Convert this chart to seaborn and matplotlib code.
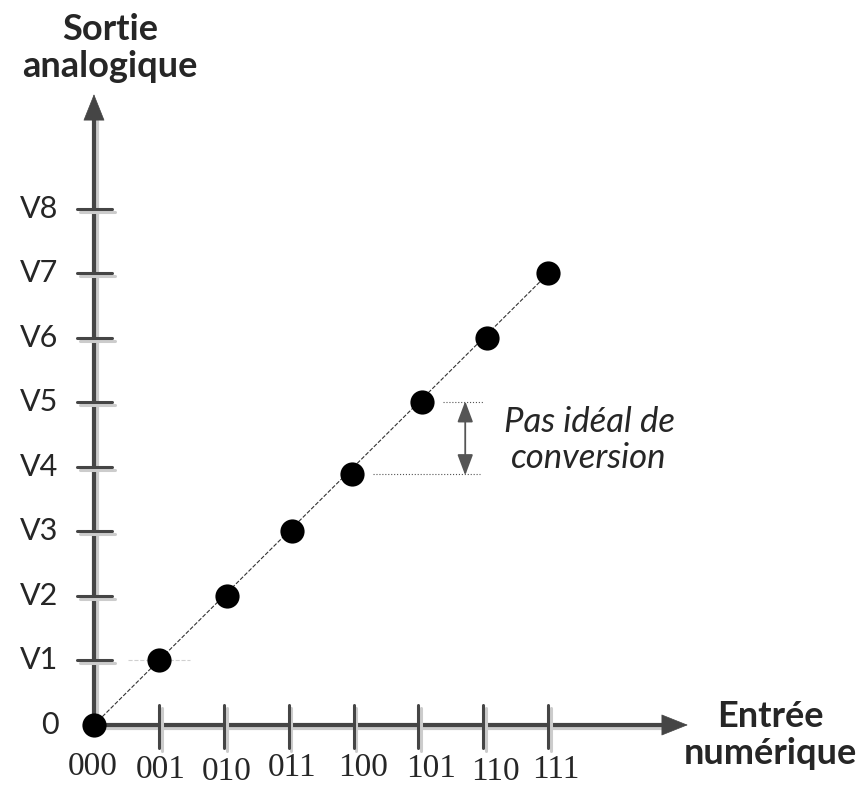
import matplotlib
matplotlib.use('Agg')
from matplotlib import pyplot as plt
import matplotlib.patheffects as pe
import pandas as pd
import seaborn as sns

sns.set_style('white')

# codes on the x axis and analog levels on the y axis
codes = ['000', '001', '010', '011', '100', '101', '110', '111']
levels = ['0', 'V1', 'V2', 'V3', 'V4', 'V5', 'V6', 'V7', 'V8']
code_pos = [0, 1, 2.05, 3.05, 3.97, 5.05, 6.05, 7.0]
level_val = [0, 1, 2, 3, 3.89, 5, 6, 7]

# the code labels are slightly staggered in the original drawing
code_shift = [-0.02, 0.03, 0.05, 0.05, 0.14, 0.2, 0.18, 0.12]
code_drop = [0.65, 0.69, 0.72, 0.67, 0.67, 0.68, 0.72, 0.70]

AX = '#454545'
shadow = [pe.SimpleLineShadow(offset=(2, -2), shadow_color='#cccccc', alpha=1), pe.Normal()]

fig = plt.figure(figsize=(8.66, 7.9), dpi=100)
ax = fig.add_axes([0, 0, 1, 1])
ax.set_xlim(-1.448, 11.895)
ax.set_ylim(-1.008, 11.24)
ax.axis('off')

# axes with arrows
arrow = dict(arrowstyle='-|>,head_length=0.9,head_width=0.36', mutation_scale=20,
             color=AX, lw=0.5, shrinkA=0, shrinkB=0)
ax.plot([0, 8.8], [0, 0], color=AX, lw=3, path_effects=shadow, zorder=2)
ax.plot([0, 0], [0, 9.4], color=AX, lw=3, path_effects=shadow, zorder=2)
ax.annotate('', xy=(9.15, 0), xytext=(8.7, 0), arrowprops=arrow)
ax.annotate('', xy=(0, 9.78), xytext=(0, 9.3), arrowprops=arrow)

# tick marks and labels
for i, c in enumerate(codes):
    if i > 0:
        ax.plot([i, i], [-0.36, 0.31], color=AX, lw=2.2, path_effects=shadow, zorder=2)
    ax.text(i + code_shift[i], -code_drop[i], c, ha='center', va='center', fontsize=24,
            family='Liberation Serif')
for j, lv in enumerate(levels):
    if j > 0:
        ax.plot([-0.26, 0.28], [j, j], color=AX, lw=2.2, path_effects=shadow, zorder=2)
    ax.text(-0.55, j, lv, ha='right', va='center', fontsize=22, family='Lato')

# ideal transfer line and points
df = pd.DataFrame({'code': code_pos, 'level': level_val})
sns.lineplot(x=[0, 7], y=[0, 7], ax=ax, color='#333333', lw=0.8, linestyle='--', zorder=3)
ax.plot([0.52, 1.48], [1, 1], color='#d0d0d0', lw=0.8, linestyle='--', zorder=1)
sns.scatterplot(data=df, x='code', y='level', ax=ax, s=260, color='black',
                edgecolor='black', zorder=4)

# step annotation
ax.plot([5.38, 6.0], [5, 5], color='#555555', lw=0.8, linestyle=':', zorder=1)
ax.plot([4.3, 5.95], [3.89, 3.89], color='#555555', lw=0.8, linestyle=':', zorder=1)
ax.annotate('', xy=(5.72, 5.02), xytext=(5.72, 3.87),
            arrowprops=dict(arrowstyle='<|-|>,head_length=0.8,head_width=0.3', mutation_scale=16,
                            color='#555555', lw=1.3, shrinkA=0, shrinkB=0))
ax.text(7.63, 4.42, 'Pas idéal de\nconversion', ha='center', va='center', fontsize=25,
        style='italic', family='Lato', linespacing=1.15)

# axis titles
ax.text(0.25, 10.5, 'Sortie\nanalogique', ha='center', va='center', fontsize=26,
        fontweight='bold', family='Lato', linespacing=1.15)
ax.text(10.42, -0.16, 'Entrée\nnumérique', ha='center', va='center', fontsize=26,
        fontweight='bold', family='Lato', linespacing=1.15)

plt.savefig('out.png', dpi=100)
